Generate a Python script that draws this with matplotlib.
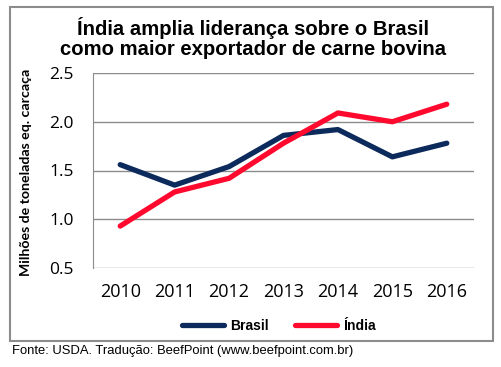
import matplotlib.pyplot as plt
from matplotlib.patches import Rectangle
from matplotlib.lines import Line2D

# dados
anos = ['2010', '2011', '2012', '2013', '2014', '2015', '2016']
brasil = [1.56, 1.35, 1.54, 1.86, 1.92, 1.64, 1.78]
india = [0.93, 1.28, 1.42, 1.78, 2.09, 2.00, 2.18]
yticks = [0.5, 1.0, 1.5, 2.0, 2.5]

cor_brasil = '#0c2a5b'
cor_india = '#ff0a2e'

W, H = 502, 367
fig = plt.figure(figsize=(W / 100, H / 100), dpi=100)

# moldura externa
fig.patches.append(Rectangle((10 / W, 1 - 341 / H), 483 / W, 334 / H,
                             transform=fig.transFigure, fill=False,
                             edgecolor='#8c8c8c', linewidth=1.5))

ax = fig.add_axes([93 / W, 1 - 268 / H, 381 / W, 195 / H])
x = range(len(anos))
ax.plot(x, brasil, color=cor_brasil, linewidth=3.8, solid_capstyle='round')
ax.plot(x, india, color=cor_india, linewidth=3.8, solid_capstyle='round')

ax.set_xlim(-0.5, len(anos) - 0.5)
ax.set_ylim(0.5, 2.5)
ax.set_yticks(yticks)
ax.set_yticklabels(['{:.1f}'.format(v) for v in yticks], fontsize=12.5, family='Open Sans')
ax.set_xticks(list(x))
ax.set_xticklabels(anos, fontsize=13, family='Open Sans')
ax.tick_params(length=0, pad=14)
ax.tick_params(axis='x', pad=11)
ax.grid(axis='y', color='#8c8c8c', linewidth=1)
ax.set_axisbelow(True)
for s in ['top', 'right', 'bottom']:
    ax.spines[s].set_visible(False)
ax.spines['left'].set_color('#8c8c8c')

ax.set_ylabel('Milhões de toneladas eq. carcaça', fontsize=10.2, fontweight='bold',
              family='Lato')
ax.yaxis.set_label_coords(-0.16, 0.49)

fig.text(253 / W, 1 - 38 / H, 'Índia amplia liderança sobre o Brasil\ncomo maior exportador de carne bovina',
         ha='center', va='center', fontsize=14.6, fontweight='bold',
         family='Liberation Sans', linespacing=1.05)

# legenda
leg = [Line2D([], [], color=cor_brasil, linewidth=3.8, solid_capstyle='round'),
       Line2D([], [], color=cor_india, linewidth=3.8, solid_capstyle='round')]
fig.legend(leg, ['Brasil', 'Índia'], loc='center', bbox_to_anchor=(279 / W, 1 - 326 / H),
           ncol=2, frameon=False, handlelength=3.0, handletextpad=0.45, columnspacing=1.9,
           prop={'family': 'Liberation Sans', 'weight': 'bold', 'size': 10})

fig.text(12 / W, 1 - 351 / H, 'Fonte: USDA. Tradução: BeefPoint (www.beefpoint.com.br)',
         ha='left', va='center', fontsize=9.4, family='Liberation Sans')

fig.savefig('out.png', dpi=100)
